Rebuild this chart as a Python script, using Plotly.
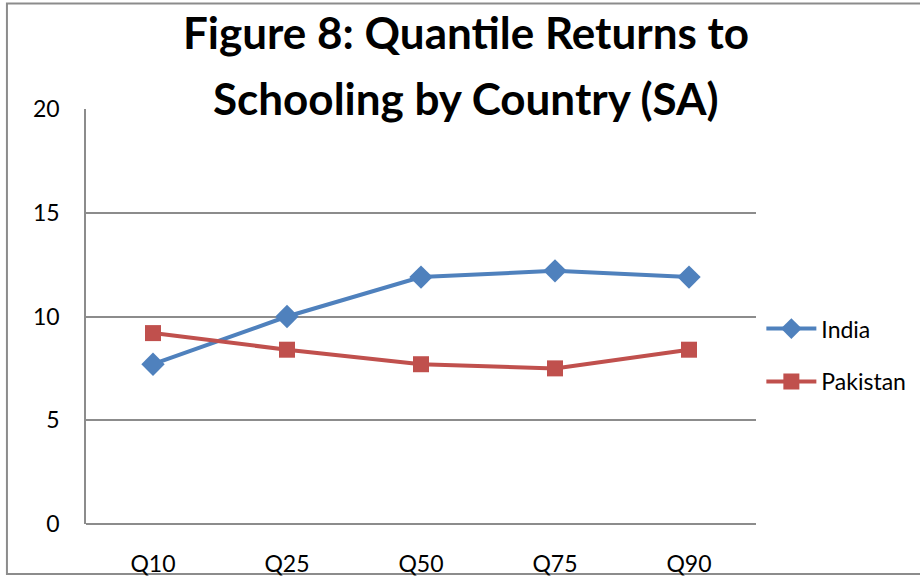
import plotly.graph_objects as go

quantiles = ["Q10", "Q25", "Q50", "Q75", "Q90"]
india = [7.7, 10.0, 11.9, 12.2, 11.9]
pakistan = [9.2, 8.4, 7.7, 7.5, 8.4]
y_ticks = [0, 5, 10, 15, 20]

title_lines = ["Figure 8: Quantile Returns to", "Schooling by Country (SA)"]

font = "Lato, 'Open Sans', sans-serif"

fig = go.Figure()
fig.add_trace(go.Scatter(x=quantiles, y=india, name="India", mode="lines+markers",
                         legendgroup="a",
                         line=dict(color="#4F81BD", width=4),
                         marker=dict(symbol="diamond", size=18, color="#4F81BD")))
fig.add_trace(go.Scatter(x=quantiles, y=pakistan, name="Pakistan", mode="lines+markers",
                         legendgroup="b",
                         line=dict(color="#C0504D", width=4),
                         marker=dict(symbol="square", size=16, color="#C0504D")))

# chart frame (cropped on the right like the source)
fig.add_shape(type="rect", xref="paper", yref="paper",
              x0=-0.118, x1=1.26, y0=-0.1205, y1=1.254,
              line=dict(color="#8c8c8c", width=2), layer="below")

# two title lines placed separately (source has wider line spacing)
for txt, ypos in zip(title_lines, [1.186, 1.027]):
    fig.add_annotation(text="<b>" + txt + "</b>",
                       xref="paper", yref="paper", x=0.567, y=ypos,
                       xanchor="center", yanchor="middle", showarrow=False,
                       font=dict(family=font, size=44, color="black"))

fig.update_layout(
    width=920, height=576,
    margin=dict(l=86, r=164, t=109, b=52, autoexpand=False),
    paper_bgcolor="white", plot_bgcolor="white",
    font=dict(family=font, size=23, color="black"),
    showlegend=True,
    legend=dict(x=1.008, y=0.407, xanchor="left", yanchor="middle",
                font=dict(size=23), tracegroupgap=20, itemwidth=50,
                bgcolor="rgba(0,0,0,0)"),
)
fig.update_xaxes(range=[-0.5, 4.5], showgrid=False, showline=False,
                 zeroline=False, ticks="", ticklabelstandoff=24, automargin=False)
fig.update_yaxes(range=[0, 20], tickvals=y_ticks, showgrid=True,
                 gridcolor="#8c8c8c", gridwidth=1.5, zeroline=True,
                 zerolinecolor="#8c8c8c", zerolinewidth=1.5,
                 showline=True, linecolor="#8c8c8c", linewidth=1.5,
                 ticks="", ticklabelstandoff=20, automargin=False)

# drop the default body margin so the figure sits at the page corner
fig.write_html("out.html", config={"displayModeBar": False},
               post_script="document.body.style.margin='0';")
